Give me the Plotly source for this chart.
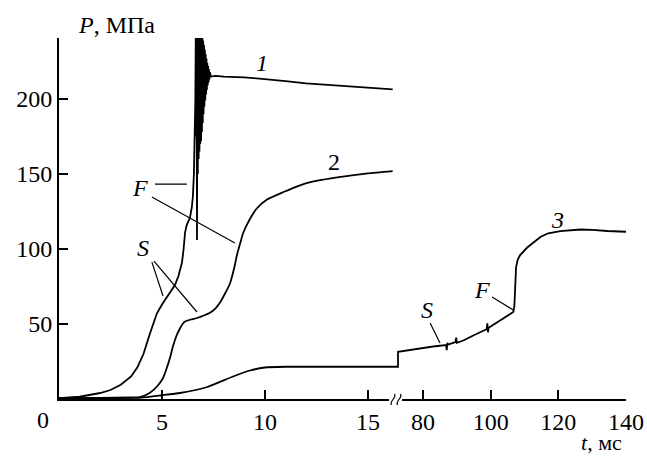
import plotly.graph_objects as go

# ---- data: pressure P (MPa) vs time t (ms) ----
# curve 1 (left time segment), includes the ringing burst after ignition
t1 = [0, 1, 2, 2.5, 3, 3.5, 3.8, 4.1, 4.4, 4.75, 5.0, 5.24, 5.45, 5.63, 5.8, 5.97,
      6.05, 6.12, 6.2, 6.36, 6.45, 6.5, 6.55, 6.58, 6.6, 6.62, 6.64,
      6.66, 6.68, 6.70, 6.72, 6.74, 6.76, 6.78, 6.80, 6.82, 6.84, 6.86, 6.88,
      6.90, 6.92, 6.94, 6.96, 6.98, 7.00, 7.02, 7.04, 7.06, 7.08, 7.10, 7.12,
      7.14, 7.16, 7.18, 7.20, 7.22, 7.24, 7.26, 7.28, 7.30, 7.33, 7.37,
      7.6, 8, 9, 10, 11, 12, 13, 14, 15, 16.2]
p1 = [0.5, 1.5, 4, 6, 9.5, 15, 21, 30, 43, 57, 63, 68, 72, 76, 82, 91,
      100, 111, 116, 121, 128, 135, 150, 165, 175, 200, 241,
      175, 241, 106, 241, 150, 241, 160, 241, 165, 241, 170, 241,
      172, 241, 178, 241, 184, 239, 190, 236, 195, 233, 199, 230,
      203, 227, 206, 224, 209, 222, 211, 220, 213, 218, 215,
      215.5, 215, 214.5, 213.5, 212, 210.5, 209.5, 208.5, 207.5, 206.5]

# curve 2 (left time segment)
t2 = [0, 2, 3.5, 3.93, 4.4, 4.8, 5.05, 5.24, 5.4, 5.53, 5.7, 5.87, 6.0, 6.1, 6.4,
      6.7, 7.0, 7.33, 7.6, 7.8, 8.05, 8.3, 8.5, 8.64, 8.8, 8.95, 9.27, 9.6, 10.1,
      10.9, 11.6, 12.3, 13.6, 15, 16.2]
p2 = [0.5, 0.7, 1, 1.3, 4, 9, 14, 21, 28, 35, 42, 47, 50, 51.5, 53,
      54, 55.5, 57.5, 60.5, 64, 70, 77, 87, 96, 104, 111, 120, 127, 133,
      138, 142, 145, 148, 150.5, 152]

# curve 3, first part (left time segment)
t3a = [0, 2, 4.0, 5.0, 5.87, 7.2, 8.45, 9.27, 10, 11, 16.41]
p3a = [0.5, 0.6, 0.9, 2.5, 4, 8, 15, 19, 21, 21.5, 21.5]

# curve 3, second part (right time segment)
t3b = [72.3, 72.6, 72.6, 75, 79.1, 83, 86.8, 87.0, 87.2, 87.4, 89.6, 89.8, 90.0,
       91.9, 95, 98.8, 99.0, 99.2, 99.4, 103, 106.7, 107.0, 107.2, 107.5, 108.0,
       108.7, 110.8, 114.7, 117, 120.6, 126.5, 130, 134.5, 140]
p3b = [21.5, 21.5, 31.5, 32.3, 34, 35, 36, 32.5, 37.5, 36.2, 38, 41, 37.5,
       39, 42.5, 46.5, 50.5, 44.5, 47.5, 52.5, 58, 62, 75, 88, 93,
       96, 101, 108, 110.5, 112, 113, 112.8, 112, 111.5]

# axis ticks
y_ticks = [50, 100, 150, 200]
x_ticks_left = [5, 10, 15]
x_ticks_right = [80, 100, 120, 140]

FONT = "'Liberation Serif', 'Times New Roman', Times, 'DejaVu Serif', serif"
W, H = 647, 457
ML, MR, MT, MB = 59, 21, 38, 58
PW, PH = W - ML - MR, H - MT - MB
SPLIT = (397 - ML) / PW  # share of width taken by the left time segment


def px(x):
    return (x - ML) / PW


def py(y):
    return (H - MB - y) / PH


line = dict(color="black", width=1.8)
fig = go.Figure()
fig.add_trace(go.Scatter(x=t1, y=p1, mode="lines", line=line, xaxis="x", yaxis="y"))
fig.add_trace(go.Scatter(x=t2, y=p2, mode="lines", line=dict(line, shape="spline", smoothing=0.5),
                         xaxis="x", yaxis="y"))
fig.add_trace(go.Scatter(x=t3a, y=p3a, mode="lines", line=dict(line, shape="spline", smoothing=0.5),
                         xaxis="x", yaxis="y"))
fig.add_trace(go.Scatter(x=t3b, y=p3b, mode="lines", line=line, xaxis="x2", yaxis="y"))

tickfont = dict(family=FONT, size=24, color="black")
axis_common = dict(showline=True, linecolor="black", linewidth=1.8, ticks="inside",
                   ticklen=9, tickwidth=1.5, tickcolor="black", showgrid=False,
                   zeroline=False, tickfont=tickfont, automargin=False)

fig.update_layout(
    template="none",
    width=W, height=H,
    margin=dict(l=ML, r=MR, t=MT, b=MB, autoexpand=False),
    paper_bgcolor="white", plot_bgcolor="white",
    showlegend=False,
    font=dict(family=FONT, color="black"),
    xaxis=dict(axis_common, domain=[0, SPLIT], range=[0, 16.41], tickvals=x_ticks_left,
               anchor="y"),
    xaxis2=dict(axis_common, domain=[SPLIT, 1], range=[72.3, 140], tickvals=x_ticks_right,
                anchor="y"),
    yaxis=dict(axis_common, range=[0, 240.7], tickvals=y_ticks, anchor="x"),
)

ann_font = dict(family=FONT, size=24, color="black")
annotations = [
    dict(text="<i>P</i>, МПа", x=px(116), y=py(25), xref="paper", yref="paper"),
    dict(text="<i>t</i>, мс", x=px(601), y=py(456), xref="paper", yref="paper",
         yanchor="bottom", font=dict(family=FONT, size=22, color="black")),
    dict(text="0", x=px(43), y=py(420), xref="paper", yref="paper", font=tickfont),
    dict(text="<i>1</i>", x=9.85, y=224, xref="x", yref="y"),
    dict(text="2", x=13.35, y=158, xref="x", yref="y"),
    dict(text="<i>3</i>", x=119.7, y=119.3, xref="x2", yref="y"),
    dict(text="<i>F</i>", x=3.93, y=140.7, xref="x", yref="y"),
    dict(text="<i>S</i>", x=4.08, y=100.7, xref="x", yref="y"),
    dict(text="<i>S</i>", x=81.2, y=59.3, xref="x2", yref="y"),
    dict(text="<i>F</i>", x=97.5, y=72.7, xref="x2", yref="y"),
]
for a in annotations:
    a.setdefault("font", ann_font)
    a.setdefault("yanchor", "middle")
    a.update(showarrow=False, xanchor="center", borderpad=0)
fig.update_layout(annotations=annotations)

# leader lines from the letter labels to the curves
leader = dict(color="black", width=1.2)
leaders = [
    ("x", 4.66, 143.3, 6.21, 143.3),
    ("x", 4.51, 134.7, 8.54, 104.0),
    ("x", 4.51, 91.3, 5.05, 68.7),
    ("x", 4.61, 92.0, 6.70, 58.0),
    ("x2", 82.1, 50.7, 85.0, 37.3),
    ("x2", 100.4, 68.0, 106.7, 59.3),
]
shapes = [dict(type="line", xref=xr, yref="y", x0=a, y0=b, x1=c, y1=d, line=leader)
          for xr, a, b, c, d in leaders]

# break marks on the time axis
shapes.append(dict(type="rect", xref="paper", yref="paper", x0=px(389), x1=px(402),
                   y0=py(396), y1=py(403), fillcolor="white", line=dict(width=0),
                   layer="above"))
for cx in (393, 399):
    path = (f"M {px(cx - 1.5)},{py(405)} C {px(cx - 4)},{py(401)} "
            f"{px(cx + 4)},{py(398)} {px(cx + 1.5)},{py(394)}")
    shapes.append(dict(type="path", xref="paper", yref="paper", path=path,
                       line=dict(color="black", width=1.2), layer="above"))
fig.update_layout(shapes=shapes)

fig.write_html("out.html")
